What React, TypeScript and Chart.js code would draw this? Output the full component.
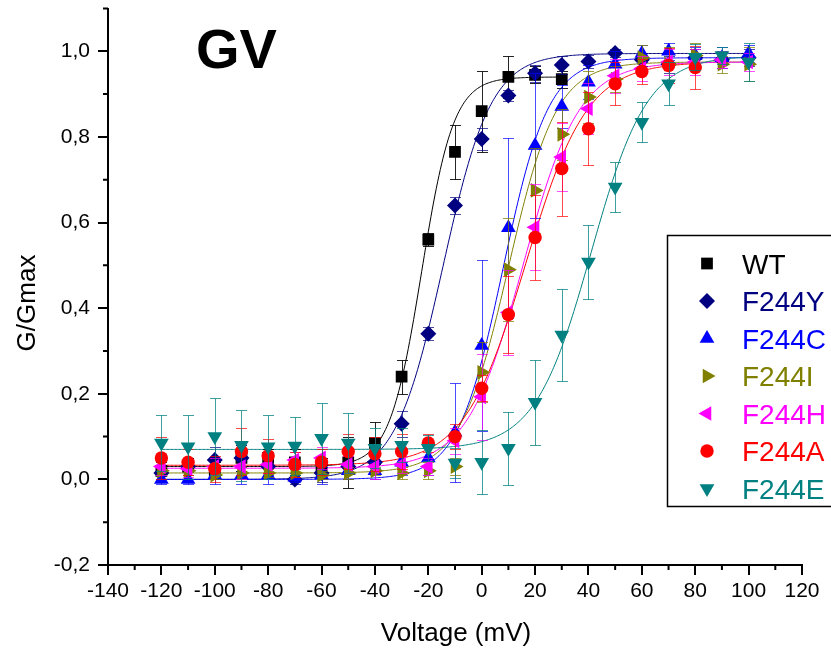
import React, { useEffect, useRef } from 'react';
import { Chart, registerables } from 'chart.js';
Chart.register(...registerables);

// ---------------- data ----------------
const voltages = [-120, -110, -100, -90, -80, -70, -60, -50, -40, -30, -20, -10, 0, 10, 20, 30, 40, 50, 60, 70, 80, 90, 100];

const seriesNames = ['WT', 'F244Y', 'F244C', 'F244I', 'F244H', 'F244A', 'F244E'];
const seriesColors = ['#000000', '#000080', '#0000FF', '#808000', '#FF00FF', '#FF0000', '#008080'];
const errColors = ['rgba(0,0,0,0.85)', 'rgba(0,0,128,0.7)', 'rgba(0,0,255,0.7)', 'rgba(128,128,0,0.75)', 'rgba(255,0,255,0.7)', 'rgba(255,0,0,0.7)', 'rgba(0,128,128,0.75)'];

// WT: -120 .. 30 mV
const wtG = [0.02, 0.03, 0.02, 0.05, 0.05, 0.04, 0.03, 0.04, 0.085, 0.24, 0.56, 0.765, 0.86, 0.94, 0.945, 0.935];
const wtErr = [0.02, 0.02, 0.02, 0.03, 0.02, 0.03, 0.02, 0.06, 0.05, 0.04, 0.015, 0.063, 0.095, 0.05, 0.02, 0.02];

const f244yG = [0.015, 0.03, 0.045, 0.05, 0.03, 0.0, 0.015, 0.03, 0.04, 0.13, 0.34, 0.64, 0.795, 0.897, 0.949, 0.968, 0.976, 0.996, 0.98, 0.97, 0.985, 0.98, 0.985];
const f244yErr = [0.015, 0.02, 0.03, 0.03, 0.02, 0.01, 0.02, 0.03, 0.02, 0.03, 0.015, 0.02, 0.025, 0.012, 0.02, 0.02, 0.015, 0.01, 0.015, 0.02, 0.02, 0.02, 0.02];

const f244cG = [0.0, 0.0, 0.01, 0.01, 0.01, 0.005, 0.01, 0.02, 0.02, 0.04, 0.05, 0.11, 0.313, 0.588, 0.78, 0.871, 0.928, 0.97, 0.995, 1.0, 0.99, 0.985, 0.995];
const f244cErr = [0.01, 0.01, 0.02, 0.02, 0.02, 0.01, 0.02, 0.02, 0.02, 0.03, 0.04, 0.115, 0.2, 0.21, 0.17, 0.05, 0.04, 0.03, 0.02, 0.02, 0.02, 0.025, 0.02];

const f244iG = [0.02, 0.02, 0.01, 0.015, 0.015, 0.015, 0.01, 0.015, 0.02, 0.015, 0.02, 0.03, 0.25, 0.49, 0.675, 0.806, 0.893, 0.935, 0.985, 0.97, 0.99, 0.97, 0.97];
const f244iErr = [0.01, 0.01, 0.01, 0.015, 0.01, 0.01, 0.01, 0.015, 0.01, 0.015, 0.02, 0.02, 0.07, 0.12, 0.1, 0.06, 0.06, 0.03, 0.03, 0.04, 0.03, 0.02, 0.04];

const f244hG = [0.03, 0.025, 0.03, 0.03, 0.035, 0.045, 0.05, 0.035, 0.03, 0.035, 0.03, 0.09, 0.193, 0.39, 0.589, 0.753, 0.866, 0.943, 0.96, 0.975, 0.975, 0.98, 0.975];
const f244hErr = [0.02, 0.02, 0.02, 0.03, 0.02, 0.02, 0.025, 0.02, 0.03, 0.02, 0.02, 0.03, 0.1, 0.1, 0.1, 0.08, 0.06, 0.04, 0.03, 0.03, 0.03, 0.02, 0.02];

// F244A: -120 .. 80 mV
const f244aG = [0.05, 0.04, 0.025, 0.065, 0.055, 0.035, 0.04, 0.065, 0.06, 0.065, 0.085, 0.1, 0.213, 0.385, 0.565, 0.726, 0.819, 0.924, 0.953, 0.967, 0.962];
const f244aErr = [0.05, 0.03, 0.03, 0.055, 0.04, 0.03, 0.03, 0.04, 0.04, 0.04, 0.02, 0.03, 0.03, 0.09, 0.1, 0.11, 0.085, 0.05, 0.03, 0.04, 0.05];

const f244eG = [0.085, 0.076, 0.1, 0.08, 0.076, 0.078, 0.096, 0.085, 0.073, 0.08, 0.073, 0.038, 0.04, 0.073, 0.18, 0.337, 0.508, 0.683, 0.834, 0.924, 0.986, 0.99, 0.975];
const f244eErr = [0.065, 0.075, 0.09, 0.083, 0.075, 0.068, 0.083, 0.07, 0.047, 0.04, 0.03, 0.035, 0.075, 0.085, 0.1, 0.107, 0.087, 0.058, 0.047, 0.05, 0.03, 0.02, 0.045];

const seriesValues = [wtG, f244yG, f244cG, f244iG, f244hG, f244aG, f244eG];
const seriesErrors = [wtErr, f244yErr, f244cErr, f244iErr, f244hErr, f244aErr, f244eErr];

// Boltzmann fit parameters
const fitV0 = [-22.5, -14.5, 8, 10, 15.5, 16.5, 41];
const fitK = [6, 9, 8.5, 9, 10.5, 11.5, 10.5];
const fitBottom = [0.03, 0.0, 0.0, 0.015, 0.026, 0.033, 0.07];
const fitTop = [0.94, 0.995, 0.985, 0.975, 0.975, 0.975, 0.99];
const fitStart = [-120, -120, -120, -120, -120, -120, -120];
const fitEnd = [30, 100, 100, 100, 100, 80, 100];

const xTicks = [-140, -120, -100, -80, -60, -40, -20, 0, 20, 40, 60, 80, 100, 120];
const yTicks = [-0.2, 0.0, 0.2, 0.4, 0.6, 0.8, 1.0];
const xMinorTicks = [-130, -110, -90, -70, -50, -30, -10, 10, 30, 50, 70, 90, 110];
const yMinorTicks = [-0.1, 0.1, 0.3, 0.5, 0.7, 0.9, 1.1];

const pointStyles = ['rect', 'rectRot', 'triangle', 'triangle', 'triangle', 'circle', 'triangle'];
const pointRotations = [0, 0, 0, 90, -90, 0, 180];
const pointRadii = [8.3, 8, 8.5, 8.5, 8.5, 6.7, 8.5];

const FONT = '"Liberation Sans", Arial, sans-serif';

function fmtY(v: number) {
  const s = v.toFixed(1).replace('.', ',');
  return s === '-0,0' ? '0,0' : s;
}

function drawMarker(ctx: CanvasRenderingContext2D, style: string, rot: number, r: number, x: number, y: number, color: string) {
  ctx.save();
  ctx.fillStyle = color;
  ctx.translate(x, y);
  ctx.beginPath();
  if (style === 'rect') {
    const s = r * Math.SQRT1_2;
    ctx.rect(-s, -s, 2 * s, 2 * s);
  } else if (style === 'rectRot') {
    ctx.moveTo(0, -r); ctx.lineTo(r, 0); ctx.lineTo(0, r); ctx.lineTo(-r, 0); ctx.closePath();
  } else if (style === 'circle') {
    ctx.arc(0, 0, r, 0, Math.PI * 2);
  } else {
    ctx.rotate((rot * Math.PI) / 180);
    for (let k = 0; k < 3; k++) {
      const a = (k * 2 * Math.PI) / 3;
      const px = Math.sin(a) * r, py = -Math.cos(a) * r;
      if (k === 0) ctx.moveTo(px, py); else ctx.lineTo(px, py);
    }
    ctx.closePath();
  }
  ctx.fill();
  ctx.restore();
}

const errorBarPlugin = {
  id: 'errorBars',
  beforeDatasetDraw(chart: any, args: any) {
    const ds = chart.data.datasets[args.index];
    if (!ds.errors) return;
    const ctx = chart.ctx;
    const xs = chart.scales.x, ys = chart.scales.y;
    ctx.save();
    ctx.strokeStyle = ds.errColor;
    ctx.lineWidth = 1;
    ds.data.forEach((p: any, i: number) => {
      const e = ds.errors[i];
      const px = Math.round(xs.getPixelForValue(p.x)) + 0.5;
      const y1 = Math.round(ys.getPixelForValue(p.y + e)) + 0.5;
      const y2 = Math.round(ys.getPixelForValue(p.y - e)) + 0.5;
      ctx.beginPath();
      ctx.moveTo(px, y1); ctx.lineTo(px, y2);
      ctx.moveTo(px - 5.5, y1); ctx.lineTo(px + 5.5, y1);
      ctx.moveTo(px - 5.5, y2); ctx.lineTo(px + 5.5, y2);
      ctx.stroke();
    });
    ctx.restore();
  },
};

const decorPlugin = {
  id: 'decor',
  afterDraw(chart: any) {
    const ctx: CanvasRenderingContext2D = chart.ctx;
    const xs = chart.scales.x, ys = chart.scales.y;
    const area = chart.chartArea;
    ctx.save();
    // minor ticks
    ctx.strokeStyle = '#000';
    ctx.lineWidth = 2;
    ctx.beginPath();
    xMinorTicks.forEach((v) => {
      const px = xs.getPixelForValue(v);
      ctx.moveTo(px, area.bottom); ctx.lineTo(px, area.bottom + 5);
    });
    yMinorTicks.forEach((v) => {
      const py = ys.getPixelForValue(v);
      ctx.moveTo(area.left, py); ctx.lineTo(area.left - 5, py);
    });
    ctx.stroke();

    // big title
    ctx.fillStyle = '#000';
    ctx.font = `bold 56px ${FONT}`;
    ctx.textAlign = 'left';
    ctx.textBaseline = 'alphabetic';
    ctx.fillText('GV', 196, 68);

    // axis titles
    ctx.font = `26px ${FONT}`;
    ctx.textAlign = 'center';
    ctx.fillText('Voltage (mV)', (area.left + area.right) / 2 + 1, 641);
    ctx.save();
    ctx.translate(35, 303);
    ctx.rotate(-Math.PI / 2);
    ctx.fillText('G/Gmax', 0, 0);
    ctx.restore();

    // legend
    ctx.fillStyle = '#fff';
    ctx.fillRect(667.5, 235.5, 200, 271);
    ctx.strokeStyle = '#000';
    ctx.lineWidth = 1.5;
    ctx.strokeRect(667.5, 235.5, 200, 271);
    ctx.font = `28px ${FONT}`;
    ctx.textAlign = 'left';
    seriesNames.forEach((name, i) => {
      const cy = 263.5 + i * 37.5;
      drawMarker(ctx, pointStyles[i], pointRotations[i], pointRadii[i], 707, cy, seriesColors[i]);
      ctx.fillStyle = seriesColors[i];
      ctx.fillText(name, 742, cy + 10);
    });
    ctx.restore();
  },
};

function buildDatasets() {
  const fits: any[] = [];
  const pts: any[] = [];
  seriesNames.forEach((name, i) => {
    const curve: { x: number; y: number }[] = [];
    for (let v = fitStart[i]; v <= fitEnd[i] + 1e-9; v += 0.5) {
      const y = fitTop[i] + (fitBottom[i] - fitTop[i]) / (1 + Math.exp((v - fitV0[i]) / fitK[i]));
      curve.push({ x: v, y });
    }
    fits.push({
      label: name + ' fit',
      data: curve,
      showLine: true,
      borderColor: seriesColors[i],
      borderWidth: 1,
      pointRadius: 0,
      fill: false,
      order: 100 - i,
    });
    const vals = seriesValues[i];
    pts.push({
      label: name,
      data: vals.map((g, j) => ({ x: voltages[j], y: g })),
      errors: seriesErrors[i],
      errColor: errColors[i],
      showLine: false,
      pointStyle: pointStyles[i],
      rotation: pointRotations[i],
      pointRadius: pointRadii[i],
      pointBackgroundColor: seriesColors[i],
      pointBorderColor: seriesColors[i],
      pointBorderWidth: 0,
      backgroundColor: seriesColors[i],
      borderColor: seriesColors[i],
      order: 50 - i,
    });
  });
  return [...fits, ...pts];
}

export default function App() {
  const ref = useRef<HTMLCanvasElement | null>(null);
  useEffect(() => {
    document.body.style.margin = '0';
    const canvas = ref.current!;
    const chart = new Chart(canvas, {
      type: 'scatter',
      data: { datasets: buildDatasets() as any },
      options: {
        animation: false,
        responsive: false,
        devicePixelRatio: 1,
        layout: { padding: { left: 0, right: 29, top: 7, bottom: 0 } },
        plugins: { legend: { display: false }, tooltip: { enabled: false }, title: { display: false } },
        scales: {
          x: {
            type: 'linear',
            min: -140,
            max: 120,
            afterBuildTicks: (s: any) => { s.ticks = xTicks.map((v) => ({ value: v })); },
            afterFit: (s: any) => { s.height = 85; s.paddingLeft = 0; s.paddingRight = 0; s.paddingTop = 0; s.paddingBottom = 0; },
            grid: { drawOnChartArea: false, drawTicks: true, tickLength: 10, color: '#000', lineWidth: 2 },
            border: { display: true, color: '#000', width: 2 },
            ticks: {
              color: '#000',
              font: { family: FONT, size: 21 },
              padding: 4,
              maxRotation: 0,
              autoSkip: false,
              callback: (v: any) => String(v),
            },
          },
          y: {
            type: 'linear',
            min: -0.2,
            max: 1.1,
            afterBuildTicks: (s: any) => { s.ticks = yTicks.map((v) => ({ value: v })); },
            afterFit: (s: any) => { s.width = 108; s.paddingTop = 0; s.paddingBottom = 0; s.paddingLeft = 0; s.paddingRight = 0; },
            grid: { drawOnChartArea: false, drawTicks: true, tickLength: 10, color: '#000', lineWidth: 2 },
            border: { display: true, color: '#000', width: 2 },
            ticks: {
              color: '#000',
              font: { family: FONT, size: 21 },
              padding: 8,
              autoSkip: false,
              callback: (v: any) => fmtY(Number(v)),
            },
          },
        },
      },
      plugins: [errorBarPlugin, decorPlugin],
    });
    return () => chart.destroy();
  }, []);
  return <canvas ref={ref} width={831} height={650} style={{ display: 'block' }} />;
}
